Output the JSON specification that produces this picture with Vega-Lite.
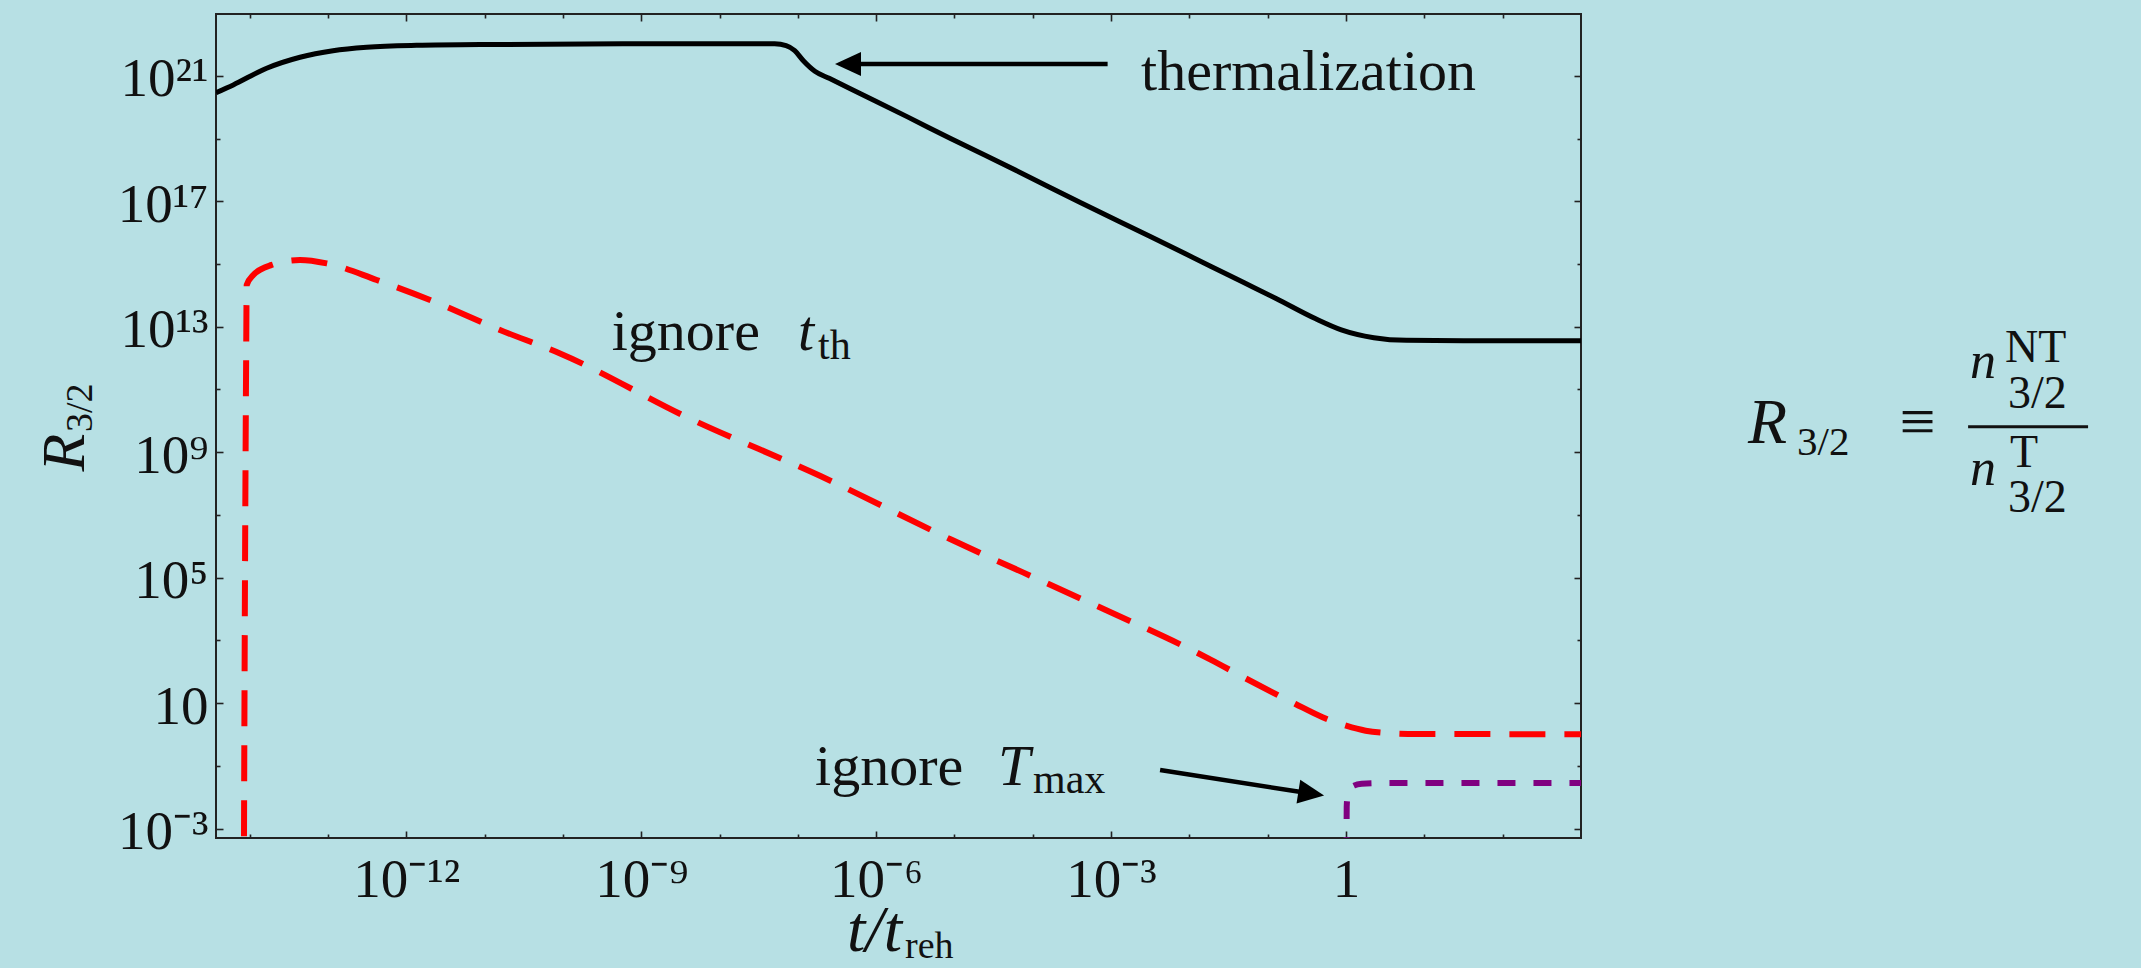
{
  "$schema": "https://vega.github.io/schema/vega-lite/v6.json",
  "width": 1365,
  "height": 824,
  "autosize": {"type": "none"},
  "padding": {"left": 216, "top": 14, "right": 560, "bottom": 130},
  "background": "#b7e0e4",
  "config": {
    "view": {"stroke": "#222222", "strokeWidth": 2},
    "font": "Liberation Serif",
    "axis": {
      "domain": false, "grid": false, "tickColor": "#222222", "tickWidth": 1.6,
      "labelFont": "Liberation Serif", "labelFontSize": 55, "labelColor": "#111111",
      "titleFont": "Liberation Serif", "titleColor": "#111111", "titleFontWeight": "normal",
      "labelOverlap": false, "labelFlush": false, "labelBound": false
    }
  },
  "datasets": {
    "black": [{"x":3.715e-15,"y":2.884e20},{"x":6.166e-15,"y":5.129e20},{"x":1.648e-14,"y":1.738e21},{"x":4.395e-14,"y":3.89e21},{"x":1.159e-13,"y":6.31e21},{"x":3.119e-13,"y":8.128e21},{"x":1.349e-12,"y":9.333e21},{"x":1.574e-11,"y":1e22},{"x":1e-9,"y":1.047e22},{"x":2.512e-8,"y":1.06e22},{"x":5.047e-8,"y":1.047e22},{"x":7.079e-8,"y":9.12e21},{"x":9.12e-8,"y":6.31e21},{"x":1.175e-7,"y":3.02e21},{"x":1.648e-7,"y":1.396e21},{"x":2.512e-7,"y":8.318e20},{"x":6.31e-7,"y":2.679e20},{"x":2.512e-6,"y":4.898e19},{"x":8.913e-6,"y":1e19},{"x":6.31e-5,"y":9.29e17},{"x":4.102e-4,"y":8.913e16},{"x":3.162e-3,"y":7.534e15},{"x":1.888e-2,"y":8.318e14},{"x":5.012e-2,"y":2.512e14},{"x":0.1276,"y":7.943e13},{"x":0.4036,"y":1.82e13},{"x":0.869,"y":7.943e12},{"x":2.265,"y":4.467e12},{"x":5.902,"y":3.673e12},{"x":31.62,"y":3.589e12},{"x":1000,"y":3.589e12}],
    "red": [{"x":8.414e-15,"y":1e-5},{"x":8.71e-15,"y":1e5},{"x":9.016e-15,"y":1e12},{"x":9.162e-15,"y":2.138e14},{"x":1.112e-14,"y":4.467e14},{"x":1.91e-14,"y":9.333e14},{"x":4.395e-14,"y":1.343e15},{"x":9.638e-14,"y":1.047e15},{"x":4.188e-13,"y":3.09e14},{"x":2.009e-12,"y":7.129e13},{"x":1.574e-11,"y":7.889e12},{"x":9.183e-11,"y":1.403e12},{"x":4.217e-9,"y":1.164e10},{"x":1.941e-7,"y":1.738e8},{"x":8.913e-6,"y":1.667e6},{"x":4.102e-4,"y":2.143e4},{"x":1.888e-2,"y":239.9},{"x":5.129e-2,"y":63.1},{"x":0.2228,"y":9.55},{"x":0.5012,"y":3.548},{"x":1,"y":1.905},{"x":1.778,"y":1.318},{"x":3.162,"y":1.122},{"x":7.943,"y":1.035},{"x":1000,"y":1.023}],
    "purple": [{"x":1.012,"y":1e-5},{"x":1.019,"y":5.012e-3},{"x":1.047,"y":1.122e-2},{"x":1.122,"y":1.862e-2},{"x":1.259,"y":2.344e-2},{"x":1.585,"y":2.692e-2},{"x":2.512,"y":2.818e-2},{"x":1000,"y":2.851e-2}],
    "shafts": [{"x":9.02e-4,"y":2.38e21,"x2":5.37e-7,"y2":2.38e21},{"x":4.217e-3,"y":0.0741,"x2":0.2924,"y2":0.01413}],
    "headLeft": [{"x":2.98e-7,"y":2.38e21}],
    "headTilt": [{"x":0.524,"y":0.01127}],
    "bar": [{"x":8.77e7,"x2":2.985e9,"y":6.52e9}],
    "ann": [
      {"g":"r58","x":2.41e-3,"y":3.52e20,"text":"thermalization"},
      {"g":"r58","x":4.198e-10,"y":1.816e12,"text":"ignore"},
      {"g":"r58","x":1.656e-7,"y":2.466e-2,"text":"ignore"},
      {"g":"i58","x":1.005e-7,"y":1.816e12,"text":"t"},
      {"g":"i58","x":3.597e-5,"y":2.466e-2,"text":"T"},
      {"g":"r42","x":1.807e-7,"y":9.376e11,"text":"th"},
      {"g":"r42","x":1.007e-4,"y":1.343e-2,"text":"max"},
      {"g":"r38","x":2.333e-6,"y":7.52e-8,"text":"reh"},
      {"g":"rot","x":9.705e-17,"y":4.416e9,"text":"3/2"},
      {"g":"i64","x":1.358e5,"y":1.968e9,"text":"R"},
      {"g":"r39","x":5.741e5,"y":8.17e8,"text":"3/2"},
      {"g":"eq","x":1.986e7,"y":1.968e9,"text":"≡"},
      {"g":"i50","x":9.29e7,"y":2.33e11,"text":"n"},
      {"g":"i50","x":9.29e7,"y":9.02e7,"text":"n"},
      {"g":"r45","x":2.6e8,"y":7.53e11,"text":"NT"},
      {"g":"r45","x":2.84e8,"y":2.57e10,"text":"3/2"},
      {"g":"r45","x":3.01e8,"y":3.46e8,"text":"T"},
      {"g":"r45","x":2.84e8,"y":1.27e7,"text":"3/2"}
    ]
  },
  "resolve": {"axis": {"x": "independent", "y": "independent"}},
  "layer": [
    {
      "data": {"name": "black"},
      "mark": {"type": "line", "color": "#000000", "strokeWidth": 5, "clip": true, "interpolate": "monotone"},
      "encoding": {
        "x": {"field": "x", "type": "quantitative", "scale": {"type": "log", "domain": [3.715e-15, 1000], "nice": false},
          "axis": {"orient": "bottom", "values": [1e-12, 1e-9, 1e-6, 1e-3, 1], "ticks": false, "labelPadding": 58, "labelBaseline": "alphabetic", "labelAlign": "center",
            "labelExpr": "datum.value < 1e-11 ? '10⁻¹²' : datum.value < 1e-8 ? '10⁻⁹' : datum.value < 1e-5 ? '10⁻⁶' : datum.value < 1e-2 ? '10⁻³' : '1'",
            "title": "t/t", "titleFontStyle": "italic", "titleFontSize": 66, "titleX": 658, "titleY": 112, "titleBaseline": "alphabetic", "titleAlign": "center"}},
        "y": {"field": "y", "type": "quantitative", "scale": {"type": "log", "domain": [5.012e-4, 9.333e22], "nice": false},
          "axis": {"orient": "left", "values": [1e-3, 10, 1e5, 1e9, 1e13, 1e17, 1e21], "ticks": false, "labelPadding": 8, "labelBaseline": "alphabetic", "labelAlign": "right", "labelOffset": 20,
            "labelExpr": "datum.value > 1e20 ? '10²¹' : datum.value > 1e16 ? '10¹⁷' : datum.value > 1e12 ? '10¹³' : datum.value > 1e8 ? '10⁹' : datum.value > 1e4 ? '10⁵' : datum.value > 1 ? '10' : '10⁻³'",
            "title": "R", "titleFontStyle": "italic", "titleFontSize": 62, "titleAngle": 270, "titleX": -133, "titleY": 438, "titleBaseline": "alphabetic", "titleAlign": "center"}}
      }
    },
    {
      "data": {"name": "red"},
      "mark": {"type": "line", "color": "#ff0000", "strokeWidth": 6, "strokeDash": [36, 19], "clip": true, "interpolate": "monotone"},
      "encoding": {
        "x": {"field": "x", "type": "quantitative", "scale": {"type": "log", "domain": [3.715e-15, 1000], "nice": false},
          "axis": {"orient": "bottom", "values": [1e-12, 1e-9, 1e-6, 1e-3, 1], "labels": false, "tickSize": -7, "title": null}},
        "y": {"field": "y", "type": "quantitative", "scale": {"type": "log", "domain": [5.012e-4, 9.333e22], "nice": false},
          "axis": {"orient": "left", "values": [1e-3, 10, 1e5, 1e9, 1e13, 1e17, 1e21], "labels": false, "tickSize": -7, "title": null}}
      }
    },
    {
      "data": {"name": "purple"},
      "mark": {"type": "line", "color": "#800080", "strokeWidth": 6, "strokeDash": [18, 18], "clip": true, "interpolate": "monotone"},
      "encoding": {
        "x": {"field": "x", "type": "quantitative", "scale": {"type": "log", "domain": [3.715e-15, 1000], "nice": false},
          "axis": {"orient": "bottom", "values": [1e-14, 1e-13, 1e-11, 1e-10, 1e-8, 1e-7, 1e-5, 1e-4, 1e-2, 1e-1, 10, 100], "labels": false, "tickSize": -4, "title": null}},
        "y": {"field": "y", "type": "quantitative", "scale": {"type": "log", "domain": [5.012e-4, 9.333e22], "nice": false},
          "axis": {"orient": "left", "values": [0.1, 1000, 1e7, 1e11, 1e15, 1e19], "labels": false, "tickSize": -4, "title": null}}
      }
    },
    {
      "data": {"name": "shafts"},
      "mark": {"type": "rule", "color": "#000000", "strokeWidth": 4.5},
      "encoding": {
        "x": {"field": "x", "type": "quantitative", "scale": {"type": "log", "domain": [3.715e-15, 1000], "nice": false},
          "axis": {"orient": "top", "values": [1e-12, 1e-9, 1e-6, 1e-3, 1], "labels": false, "tickSize": -7, "title": null}},
        "y": {"field": "y", "type": "quantitative", "scale": {"type": "log", "domain": [5.012e-4, 9.333e22], "nice": false},
          "axis": {"orient": "right", "values": [1e-3, 10, 1e5, 1e9, 1e13, 1e17, 1e21], "labels": false, "tickSize": -7, "title": null}},
        "x2": {"field": "x2"},
        "y2": {"field": "y2"}
      }
    },
    {
      "data": {"name": "headLeft"},
      "mark": {"type": "point", "shape": "M 0 0 L -2 -0.92 L -2 0.92 Z", "size": 676, "filled": true, "color": "#000000", "opacity": 1, "strokeWidth": 0, "angle": 180},
      "encoding": {
        "x": {"field": "x", "type": "quantitative", "scale": {"type": "log", "domain": [3.715e-15, 1000], "nice": false},
          "axis": {"orient": "top", "values": [1e-14, 1e-13, 1e-11, 1e-10, 1e-8, 1e-7, 1e-5, 1e-4, 1e-2, 1e-1, 10, 100], "labels": false, "tickSize": -4, "title": null}},
        "y": {"field": "y", "type": "quantitative", "scale": {"type": "log", "domain": [5.012e-4, 9.333e22], "nice": false},
          "axis": {"orient": "right", "values": [0.1, 1000, 1e7, 1e11, 1e15, 1e19], "labels": false, "tickSize": -4, "title": null}}
      }
    },
    {
      "data": {"name": "headTilt"},
      "mark": {"type": "point", "shape": "M 0 0 L -2 -0.92 L -2 0.92 Z", "size": 676, "filled": true, "color": "#000000", "opacity": 1, "strokeWidth": 0, "angle": 8.9},
      "encoding": {
        "x": {"field": "x", "type": "quantitative", "scale": {"type": "log", "domain": [3.715e-15, 1000], "nice": false}, "axis": null},
        "y": {"field": "y", "type": "quantitative", "scale": {"type": "log", "domain": [5.012e-4, 9.333e22], "nice": false}, "axis": null}
      }
    },
    {
      "data": {"name": "bar"},
      "mark": {"type": "rule", "color": "#111111", "strokeWidth": 3},
      "encoding": {
        "x": {"field": "x", "type": "quantitative", "scale": {"type": "log", "domain": [3.715e-15, 1000], "nice": false}, "axis": null},
        "x2": {"field": "x2"},
        "y": {"field": "y", "type": "quantitative", "scale": {"type": "log", "domain": [5.012e-4, 9.333e22], "nice": false}, "axis": null}
      }
    },
    {
      "data": {"name": "ann"},
      "transform": [{"filter": "datum.g == 'r58'"}],
      "mark": {"type": "text", "font": "Liberation Serif", "fontSize": 58, "align": "left", "baseline": "alphabetic", "color": "#111111"},
      "encoding": {
        "x": {"field": "x", "type": "quantitative", "scale": {"type": "log", "domain": [3.715e-15, 1000], "nice": false}, "axis": null},
        "y": {"field": "y", "type": "quantitative", "scale": {"type": "log", "domain": [5.012e-4, 9.333e22], "nice": false}, "axis": null},
        "text": {"field": "text"}
      }
    },
    {
      "data": {"name": "ann"},
      "transform": [{"filter": "datum.g == 'i58'"}],
      "mark": {"type": "text", "font": "Liberation Serif", "fontSize": 58, "fontStyle": "italic", "align": "left", "baseline": "alphabetic", "color": "#111111"},
      "encoding": {
        "x": {"field": "x", "type": "quantitative", "scale": {"type": "log", "domain": [3.715e-15, 1000], "nice": false}, "axis": null},
        "y": {"field": "y", "type": "quantitative", "scale": {"type": "log", "domain": [5.012e-4, 9.333e22], "nice": false}, "axis": null},
        "text": {"field": "text"}
      }
    },
    {
      "data": {"name": "ann"},
      "transform": [{"filter": "datum.g == 'r42'"}],
      "mark": {"type": "text", "font": "Liberation Serif", "fontSize": 42, "align": "left", "baseline": "alphabetic", "color": "#111111"},
      "encoding": {
        "x": {"field": "x", "type": "quantitative", "scale": {"type": "log", "domain": [3.715e-15, 1000], "nice": false}, "axis": null},
        "y": {"field": "y", "type": "quantitative", "scale": {"type": "log", "domain": [5.012e-4, 9.333e22], "nice": false}, "axis": null},
        "text": {"field": "text"}
      }
    },
    {
      "data": {"name": "ann"},
      "transform": [{"filter": "datum.g == 'r38'"}],
      "mark": {"type": "text", "font": "Liberation Serif", "fontSize": 38, "align": "left", "baseline": "alphabetic", "color": "#111111"},
      "encoding": {
        "x": {"field": "x", "type": "quantitative", "scale": {"type": "log", "domain": [3.715e-15, 1000], "nice": false}, "axis": null},
        "y": {"field": "y", "type": "quantitative", "scale": {"type": "log", "domain": [5.012e-4, 9.333e22], "nice": false}, "axis": null},
        "text": {"field": "text"}
      }
    },
    {
      "data": {"name": "ann"},
      "transform": [{"filter": "datum.g == 'rot'"}],
      "mark": {"type": "text", "font": "Liberation Serif", "fontSize": 38, "angle": 270, "align": "left", "baseline": "alphabetic", "color": "#111111"},
      "encoding": {
        "x": {"field": "x", "type": "quantitative", "scale": {"type": "log", "domain": [3.715e-15, 1000], "nice": false}, "axis": null},
        "y": {"field": "y", "type": "quantitative", "scale": {"type": "log", "domain": [5.012e-4, 9.333e22], "nice": false}, "axis": null},
        "text": {"field": "text"}
      }
    },
    {
      "data": {"name": "ann"},
      "transform": [{"filter": "datum.g == 'i64'"}],
      "mark": {"type": "text", "font": "Liberation Serif", "fontSize": 64, "fontStyle": "italic", "align": "left", "baseline": "alphabetic", "color": "#111111"},
      "encoding": {
        "x": {"field": "x", "type": "quantitative", "scale": {"type": "log", "domain": [3.715e-15, 1000], "nice": false}, "axis": null},
        "y": {"field": "y", "type": "quantitative", "scale": {"type": "log", "domain": [5.012e-4, 9.333e22], "nice": false}, "axis": null},
        "text": {"field": "text"}
      }
    },
    {
      "data": {"name": "ann"},
      "transform": [{"filter": "datum.g == 'r39'"}],
      "mark": {"type": "text", "font": "Liberation Serif", "fontSize": 41, "align": "left", "baseline": "alphabetic", "color": "#111111"},
      "encoding": {
        "x": {"field": "x", "type": "quantitative", "scale": {"type": "log", "domain": [3.715e-15, 1000], "nice": false}, "axis": null},
        "y": {"field": "y", "type": "quantitative", "scale": {"type": "log", "domain": [5.012e-4, 9.333e22], "nice": false}, "axis": null},
        "text": {"field": "text"}
      }
    },
    {
      "data": {"name": "ann"},
      "transform": [{"filter": "datum.g == 'eq'"}],
      "mark": {"type": "text", "font": "Liberation Serif", "fontSize": 64, "align": "center", "baseline": "alphabetic", "color": "#111111"},
      "encoding": {
        "x": {"field": "x", "type": "quantitative", "scale": {"type": "log", "domain": [3.715e-15, 1000], "nice": false}, "axis": null},
        "y": {"field": "y", "type": "quantitative", "scale": {"type": "log", "domain": [5.012e-4, 9.333e22], "nice": false}, "axis": null},
        "text": {"field": "text"}
      }
    },
    {
      "data": {"name": "ann"},
      "transform": [{"filter": "datum.g == 'i50'"}],
      "mark": {"type": "text", "font": "Liberation Serif", "fontSize": 52, "fontStyle": "italic", "align": "left", "baseline": "alphabetic", "color": "#111111"},
      "encoding": {
        "x": {"field": "x", "type": "quantitative", "scale": {"type": "log", "domain": [3.715e-15, 1000], "nice": false}, "axis": null},
        "y": {"field": "y", "type": "quantitative", "scale": {"type": "log", "domain": [5.012e-4, 9.333e22], "nice": false}, "axis": null},
        "text": {"field": "text"}
      }
    },
    {
      "data": {"name": "ann"},
      "transform": [{"filter": "datum.g == 'r45'"}],
      "mark": {"type": "text", "font": "Liberation Serif", "fontSize": 46, "align": "left", "baseline": "alphabetic", "color": "#111111"},
      "encoding": {
        "x": {"field": "x", "type": "quantitative", "scale": {"type": "log", "domain": [3.715e-15, 1000], "nice": false}, "axis": null},
        "y": {"field": "y", "type": "quantitative", "scale": {"type": "log", "domain": [5.012e-4, 9.333e22], "nice": false}, "axis": null},
        "text": {"field": "text"}
      }
    }
  ]
}
